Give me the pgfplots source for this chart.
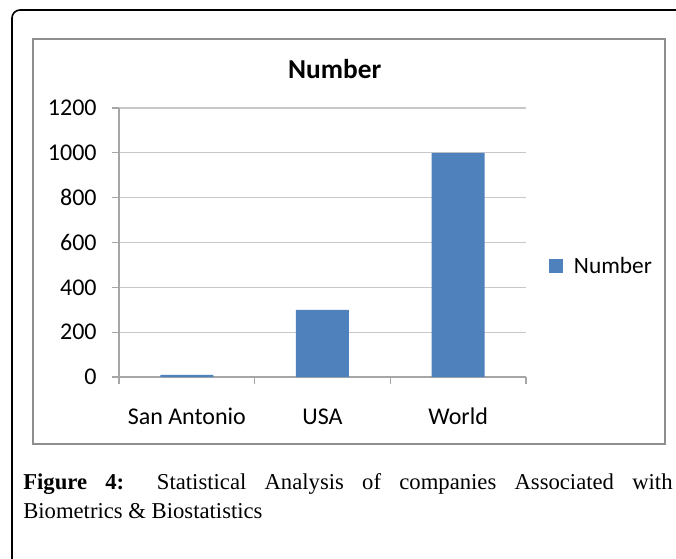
\documentclass[border=0pt]{standalone}
\usepackage{pgfplots}
\pgfplotsset{compat=1.18}
\usepackage{fontspec}
\setmainfont{Liberation Serif}
\newfontfamily\calibri{Carlito}

\definecolor{barblue}{HTML}{4F81BD}
\definecolor{gridgray}{HTML}{C8C8C8}
\definecolor{axisgray}{HTML}{A6A6A6}
\definecolor{boxgray}{HTML}{8E8E8E}

\begin{document}
\begin{tikzpicture}
% page: 676 x 558 px, 1 px = 0.75pt
\useasboundingbox (0,0) rectangle (507pt,-418.5pt);

% outer frame (open to right and bottom)
\draw[black, line width=1.2pt, rounded corners=6pt]
  (9pt,-425pt) -- (9pt,-7.5pt) -- (515pt,-7.5pt);

% chart area border
\draw[boxgray, line width=1pt] (24.75pt,-29.25pt) rectangle (498.75pt,-333pt);

\begin{axis}[
  at={(89.25pt,-282.75pt)}, anchor=south west,
  scale only axis,
  width=305.25pt, height=201.75pt,
  ybar, bar width=39.75pt,
  xmin=-0.5, xmax=2.5,
  ymin=0, ymax=1200,
  ytick={0,200,...,1200},
  xtick={0,1,2},
  xticklabels={San Antonio,USA,World},
  minor xtick={-0.5,0.5,1.5,2.5},
  major x tick style={draw=none},
  tick align=outside,
  major tick length=5.25pt,
  minor tick length=5.25pt,
  axis x line*=bottom,
  axis y line*=left,
  axis line style={axisgray, line width=0.8pt},
  tick style={axisgray, line width=0.8pt},
  ymajorgrids,
  grid style={gridgray, line width=0.8pt},
  tick label style={font=\calibri\fontsize{18}{20}\selectfont, black},
  yticklabel style={xshift=-8pt},
  xticklabel style={text height=12.5pt, text depth=4pt, yshift=-14pt},
  /pgf/number format/assume math mode=true,
  /pgf/number format/1000 sep={},
  title={\calibri\bfseries\fontsize{20.5}{22}\selectfont Number},
  title style={at={(0.53,1)}, anchor=base, yshift=16pt},
  legend style={at={(1.055,0.412)}, anchor=west, draw=none, fill=none,
    font=\calibri\fontsize{17.5}{20}\selectfont, inner sep=0pt},
  legend image code/.code={\fill[barblue] (0pt,-5.25pt) rectangle (10.5pt,5.25pt);},
]
\addplot[fill=barblue, draw=none] coordinates {(0,10) (1,300) (2,1000)};
\addlegendentry{\hspace{6.5pt}Number}
\end{axis}

% caption
\node[anchor=base west, inner sep=0pt] at (17.25pt,-366.75pt)
  {\fontsize{17}{21}\selectfont\makebox[487pt][s]{\textbf{Figure 4:} Statistical Analysis of companies Associated with}};
\node[anchor=base west, inner sep=0pt] at (17.25pt,-388.5pt)
  {\fontsize{17}{21}\selectfont Biometrics \& Biostatistics};
\end{tikzpicture}
\end{document}
